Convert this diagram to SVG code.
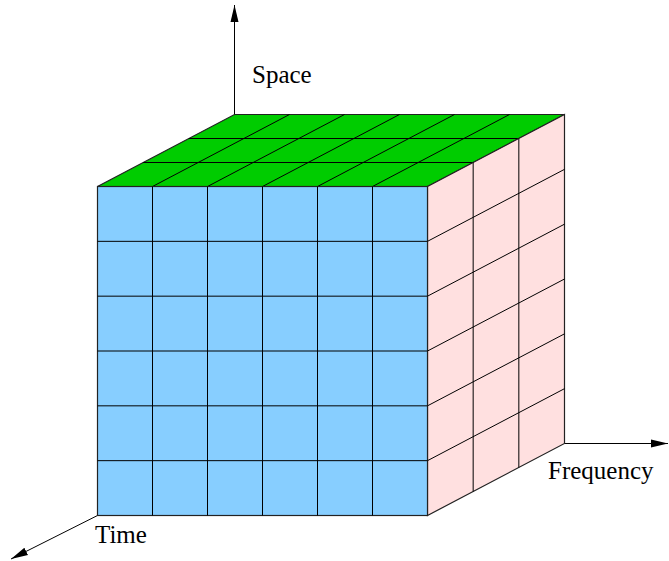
<svg xmlns="http://www.w3.org/2000/svg" width="669" height="561" viewBox="0 0 669 561">
<style>
.grid{stroke:#000;stroke-width:1;fill:none}
.face{stroke:#222;stroke-width:1.2}
.axis{stroke:#000;stroke-width:1;fill:none}
.lbl{font-size:25px;fill:#000}
</style>
<defs>
<marker id="ah" markerUnits="userSpaceOnUse" markerWidth="18" markerHeight="10" viewBox="0 0 18 10" refX="17" refY="5" orient="auto">
<path d="M0,1 L17,5 L0,9 Z" fill="#000"/>
</marker>
</defs>
<rect width="669" height="561" fill="#fff"/>
<g id="connectors">
<line class="axis" x1="234.5" y1="114.5" x2="234.5" y2="5" marker-end="url(#ah)"/>
<line class="axis" x1="564.5" y1="443.5" x2="668" y2="443.5" marker-end="url(#ah)"/>
<line class="axis" x1="97.5" y1="515.5" x2="11" y2="559" marker-end="url(#ah)"/>
</g>
<g id="top-face">
<polygon class="face" fill="#00cc00" points="97.5,186.5 427.5,186.5 564.5,114.5 234.5,114.5"/>
<path class="grid" d="M143.17,162.5H473.17M188.83,138.5H518.83M152.5,186.5L289.5,114.5M207.5,186.5L344.5,114.5M262.5,186.5L399.5,114.5M317.5,186.5L454.5,114.5M372.5,186.5L509.5,114.5"/>
</g>
<g id="right-face">
<polygon class="face" fill="#ffe0e0" points="427.5,186.5 564.5,114.5 564.5,443.5 427.5,515.5"/>
<path class="grid" d="M473.17,162.5V491.5M518.83,138.5V467.5M427.5,241.33L564.5,169.33M427.5,296.17L564.5,224.17M427.5,351L564.5,279M427.5,405.83L564.5,333.83M427.5,460.67L564.5,388.67"/>
</g>
<g id="front-face">
<rect class="face" fill="#87ceff" x="97.5" y="186.5" width="330" height="329"/>
<path class="grid" d="M152.5,186.5V515.5M207.5,186.5V515.5M262.5,186.5V515.5M317.5,186.5V515.5M372.5,186.5V515.5M97.5,241.33H427.5M97.5,296.17H427.5M97.5,351H427.5M97.5,405.83H427.5M97.5,460.67H427.5"/>
</g>
<g id="labels" font-family="Liberation Serif, DejaVu Serif, serif">
<text class="lbl" x="252" y="83">Space</text>
<text class="lbl" x="95" y="543">Time</text>
<text class="lbl" x="548" y="479">Frequency</text>
</g>
</svg>
